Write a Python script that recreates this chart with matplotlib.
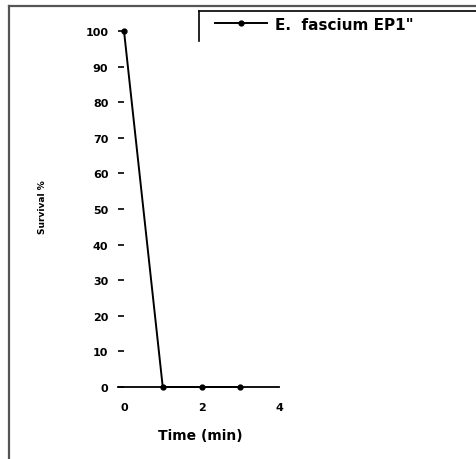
import matplotlib
matplotlib.use("Agg")
import matplotlib.pyplot as plt
from matplotlib.lines import Line2D

time_min = [0, 1, 2, 3]
survival = [100, 0, 0, 0]
series_label = 'E.  fascium EP1"'
x_ticks = [0, 2, 4]
y_ticks = [0, 10, 20, 30, 40, 50, 60, 70, 80, 90, 100]

plt.rcParams['font.family'] = ['DejaVu Sans']
plt.rcParams['font.weight'] = 'bold'

W, H = 477, 460
fig = plt.figure(figsize=(W / 100, H / 100), dpi=100)
fig.patch.set_facecolor('white')

ax = fig.add_axes([118 / W, 1 - 388 / H, 161 / W, 356 / H])
line, = ax.plot(time_min, survival, color='black', lw=1.4, marker='o',
                markersize=3.5, clip_on=False, label=series_label)
ax.set_xlim(-0.155, 4)
ax.set_ylim(0, 100)
ax.set_xticks(x_ticks)
ax.set_yticks(y_ticks)
for s in ['top', 'right', 'left']:
    ax.spines[s].set_visible(False)
ax.spines['bottom'].set_linewidth(1.3)
ax.tick_params(axis='x', length=0, pad=11, labelsize=8)
ax.tick_params(axis='y', direction='in', length=4, width=1.2, pad=7, labelsize=8)
ax.set_xlabel('Time (min)', fontsize=10, fontweight='bold')
ax.xaxis.set_label_coords(0.509, -0.115)
ax.set_ylabel('Survival %', fontsize=6.5, fontweight='bold')
ax.yaxis.set_label_coords(-0.44, 0.508)

ax.legend(handles=[line], loc='center left', bbox_to_anchor=(215 / W, 1 - 25 / H),
          bbox_transform=fig.transFigure, frameon=False,
          handlelength=3.4, handletextpad=0.55, borderpad=0, borderaxespad=0,
          prop={'weight': 'bold', 'size': 11})

# outer frame (left and top) and legend frame edges
fig.add_artist(Line2D([9 / W, 9 / W], [0, 1 - 7 / H], transform=fig.transFigure,
                      color='#555555', lw=1.6))
fig.add_artist(Line2D([9 / W, 1], [1 - 7 / H, 1 - 7 / H], transform=fig.transFigure,
                      color='#555555', lw=1.6))
fig.add_artist(Line2D([199 / W, 199 / W], [1 - 42 / H, 1 - 12 / H], transform=fig.transFigure,
                      color='black', lw=1.2))
fig.add_artist(Line2D([199 / W, 1], [1 - 12 / H, 1 - 12 / H], transform=fig.transFigure,
                      color='black', lw=1.2))

fig.savefig('out.png', dpi=100)
